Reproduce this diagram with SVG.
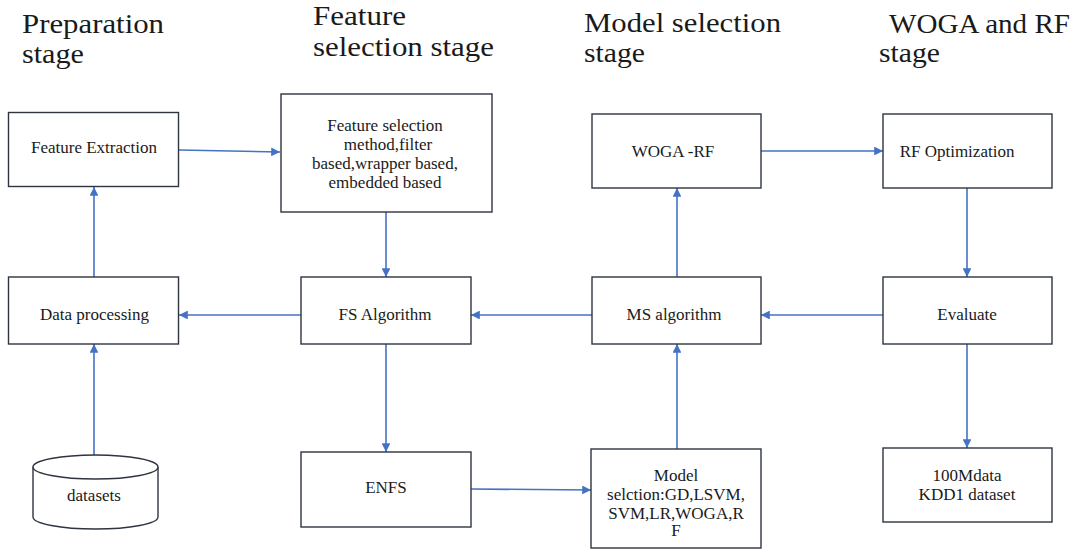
<svg xmlns="http://www.w3.org/2000/svg" width="1084" height="550" viewBox="0 0 1084 550">
<style>
.box{fill:#fff;stroke:#2e3440;stroke-width:1.4}
.t{font-family:'Liberation Serif','Times New Roman',serif;font-size:17px;fill:#1a1a1a;text-anchor:middle}
.h{font-family:'Liberation Serif','Times New Roman',serif;font-size:27px;fill:#1a1a1a}
.c{stroke:#4472c4;stroke-width:1.6;fill:none;marker-end:url(#ah)}
</style>
<defs>
<marker id="ah" viewBox="0 0 10 10" refX="10" refY="5" markerWidth="5.5" markerHeight="5.5" orient="auto" markerUnits="strokeWidth">
<path d="M0,0 L10,5 L0,10 z" fill="#4472c4"/>
</marker>
</defs>
<rect width="1084" height="550" fill="#fff"/>
<g id="headings">
<text class="h" x="22" y="33" textLength="142" lengthAdjust="spacingAndGlyphs">Preparation</text>
<text class="h" x="22" y="63" textLength="62" lengthAdjust="spacingAndGlyphs">stage</text>
<text class="h" x="313" y="25" textLength="93" lengthAdjust="spacingAndGlyphs">Feature</text>
<text class="h" x="313" y="56" textLength="181" lengthAdjust="spacingAndGlyphs">selection stage</text>
<text class="h" x="584" y="32" textLength="197" lengthAdjust="spacingAndGlyphs">Model selection</text>
<text class="h" x="584" y="62" textLength="61" lengthAdjust="spacingAndGlyphs">stage</text>
<text class="h" x="889" y="33" textLength="181" lengthAdjust="spacingAndGlyphs">WOGA and RF</text>
<text class="h" x="879" y="62" textLength="61" lengthAdjust="spacingAndGlyphs">stage</text>
</g>
<g id="connectors">
<line class="c" x1="179" y1="150" x2="280" y2="152"/>
<line class="c" x1="94" y1="277" x2="94" y2="187"/>
<line class="c" x1="386" y1="212" x2="386" y2="277"/>
<line class="c" x1="301" y1="315" x2="179" y2="315"/>
<line class="c" x1="94" y1="455" x2="94" y2="344"/>
<line class="c" x1="386" y1="344" x2="386" y2="452"/>
<line class="c" x1="471" y1="489" x2="591" y2="490"/>
<line class="c" x1="677" y1="449" x2="677" y2="344"/>
<line class="c" x1="592" y1="315" x2="471" y2="315"/>
<line class="c" x1="677" y1="277" x2="677" y2="188"/>
<line class="c" x1="761" y1="151" x2="883" y2="151"/>
<line class="c" x1="967" y1="188" x2="967" y2="277"/>
<line class="c" x1="883" y1="315" x2="761" y2="315"/>
<line class="c" x1="967" y1="344" x2="967" y2="448"/>
</g>
<g id="feature-extraction">
<rect class="box" x="8.5" y="112.5" width="170" height="74"/>
<text class="t" x="94" y="153">Feature Extraction</text>
</g>
<g id="feature-selection-method">
<rect class="box" x="281" y="94" width="211" height="118"/>
<text class="t" x="385" y="130.5">Feature selection</text>
<text class="t" x="388" y="149.5">method,filter</text>
<text class="t" x="385" y="168.5">based,wrapper based,</text>
<text class="t" x="385" y="187.5">embedded based</text>
</g>
<g id="data-processing">
<rect class="box" x="8.5" y="277" width="170" height="67"/>
<text class="t" x="94.5" y="320">Data processing</text>
</g>
<g id="fs-algorithm">
<rect class="box" x="301" y="277" width="170" height="67"/>
<text class="t" x="385" y="320">FS Algorithm</text>
</g>
<g id="datasets">
<path class="box" d="M33,467 L33,517 A62.5,12 0 0 0 158,517 L158,467"/>
<ellipse class="box" cx="95.5" cy="467" rx="62.5" ry="12"/>
<text class="t" x="94" y="501">datasets</text>
</g>
<g id="enfs">
<rect class="box" x="301" y="452" width="170" height="75"/>
<text class="t" x="386" y="493">ENFS</text>
</g>
<g id="model-selection">
<rect class="box" x="591" y="449" width="170" height="99"/>
<text class="t" x="676" y="481">Model</text>
<text class="t" x="676" y="500">selction:GD,LSVM,</text>
<text class="t" x="676" y="518.5">SVM,LR,WOGA,R</text>
<text class="t" x="676" y="536">F</text>
</g>
<g id="ms-algorithm">
<rect class="box" x="592" y="277" width="169" height="67"/>
<text class="t" x="674" y="320">MS algorithm</text>
</g>
<g id="woga-rf">
<rect class="box" x="592" y="114" width="169" height="74"/>
<text class="t" x="673" y="157">WOGA -RF</text>
</g>
<g id="rf-optimization">
<rect class="box" x="883" y="114" width="169" height="74"/>
<text class="t" x="957" y="157">RF Optimization</text>
</g>
<g id="evaluate">
<rect class="box" x="883" y="277" width="169" height="67"/>
<text class="t" x="967" y="320">Evaluate</text>
</g>
<g id="kdd-dataset">
<rect class="box" x="883" y="448" width="169" height="74"/>
<text class="t" x="967" y="481">100Mdata</text>
<text class="t" x="967" y="500">KDD1 dataset</text>
</g>
</svg>
